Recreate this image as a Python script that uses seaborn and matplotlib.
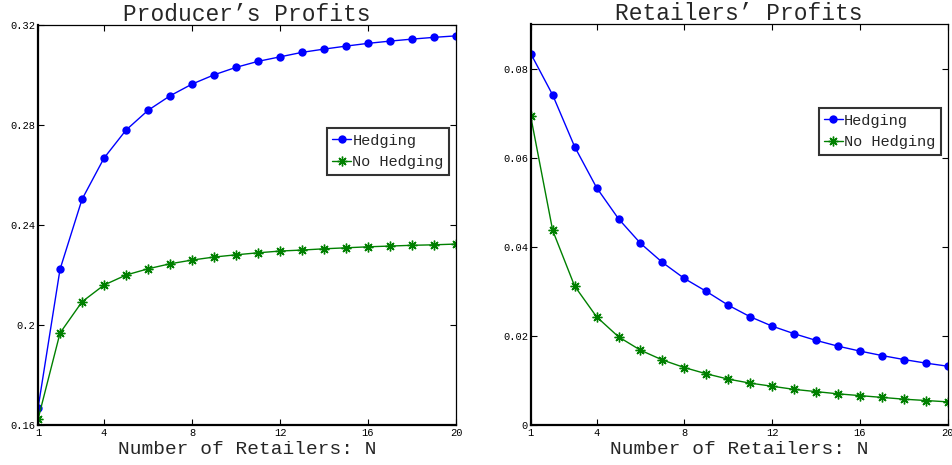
import numpy as np
import pandas as pd
import matplotlib
matplotlib.use("Agg")
import matplotlib.pyplot as plt
import seaborn as sns

# Number of retailers
n_retailers = list(range(1, 21))

# Producer's profits
producer_hedging = [0.1667, 0.2223, 0.2503, 0.2668, 0.2780, 0.2859, 0.2917, 0.2964,
                    0.3001, 0.3031, 0.3055, 0.3073, 0.3091, 0.3104, 0.3116, 0.3127,
                    0.3136, 0.3144, 0.3151, 0.3157]
producer_no_hedging = [0.1623, 0.1968, 0.2093, 0.2160, 0.2200, 0.2225, 0.2245, 0.2260,
                       0.2272, 0.2281, 0.2289, 0.2296, 0.2300, 0.2305, 0.2309, 0.2313,
                       0.2316, 0.2319, 0.2321, 0.2324]

# Retailers' profits
retailer_hedging = [0.0834, 0.0741, 0.0625, 0.0533, 0.0463, 0.0408, 0.0365, 0.0329,
                    0.0300, 0.0269, 0.0243, 0.0222, 0.0205, 0.0190, 0.0177, 0.0166,
                    0.0156, 0.0147, 0.0139, 0.0132]
retailer_no_hedging = [0.0693, 0.0437, 0.0312, 0.0243, 0.0198, 0.0168, 0.0146, 0.0129,
                       0.0115, 0.0103, 0.0094, 0.0087, 0.0080, 0.0075, 0.0070, 0.0066,
                       0.0062, 0.0058, 0.0055, 0.0052]

x_ticks = [1, 4, 8, 12, 16, 20]
producer_yticks = [0.16, 0.20, 0.24, 0.28, 0.32]
producer_ylabels = ["0.16", "0.2", "0.24", "0.28", "0.32"]
retailer_yticks = [0, 0.02, 0.04, 0.06, 0.08]
retailer_ylabels = ["0", "0.02", "0.04", "0.06", "0.08"]

sns.set_style("ticks")
plt.rcParams["font.family"] = ["Liberation Mono", "DejaVu Sans Mono"]

BLUE = "#0000ff"
GREEN = "#008000"
ASTERISK = (8, 2, 0)

fig = plt.figure(figsize=(9.53, 4.65), dpi=100)
ax1 = fig.add_axes([0.0399, 0.086, 0.4386, 0.860])
ax2 = fig.add_axes([0.5569, 0.086, 0.4376, 0.862])


def draw_panel(ax, hedge, nohedge, title, yticks, ylabels, ylim, legend_anchor):
    df = pd.DataFrame({"N": n_retailers, "Hedging": hedge, "No Hedging": nohedge})
    sns.lineplot(data=df, x="N", y="Hedging", ax=ax, color=BLUE, marker="o",
                 markersize=6, markeredgewidth=0, linewidth=1.0, label="Hedging")
    sns.lineplot(data=df, x="N", y="No Hedging", ax=ax, color=GREEN, marker=ASTERISK,
                 markersize=7, markeredgewidth=1.0, markeredgecolor=GREEN,
                 linewidth=1.0, label="No Hedging")
    ax.set_xlim(1, 20)
    ax.set_ylim(*ylim)
    ax.set_xticks(x_ticks)
    ax.set_xticklabels([str(t) for t in x_ticks])
    ax.set_yticks(yticks)
    ax.set_yticklabels(ylabels)
    ax.tick_params(direction="in", length=4, width=0.8, labelsize=7.5,
                   top=True, right=True, pad=2, colors="black")
    ax.set_title(title, fontsize=16.5, pad=3)
    ax.set_xlabel("Number of Retailers: N", fontsize=14, labelpad=2)
    ax.set_ylabel("")
    for side in ["left", "bottom"]:
        ax.spines[side].set_linewidth(1.6)
    for side in ["top", "right"]:
        ax.spines[side].set_linewidth(0.9)
    for s in ax.spines.values():
        s.set_color("black")
    leg = ax.legend(loc="upper right", bbox_to_anchor=legend_anchor,
                    fontsize=11, frameon=True, fancybox=False, handlelength=1.2,
                    handletextpad=0.1, borderpad=0.35, labelspacing=0.5,
                    borderaxespad=0)
    leg.get_frame().set_edgecolor("black")
    leg.get_frame().set_linewidth(1.5)


draw_panel(ax1, producer_hedging, producer_no_hedging, "Producer’s Profits",
           producer_yticks, producer_ylabels, (0.16, 0.32), (0.983, 0.742))
draw_panel(ax2, retailer_hedging, retailer_no_hedging, "Retailers’ Profits",
           retailer_yticks, retailer_ylabels, (0, 0.09), (0.983, 0.79))

fig.savefig("out.png", dpi=100)
